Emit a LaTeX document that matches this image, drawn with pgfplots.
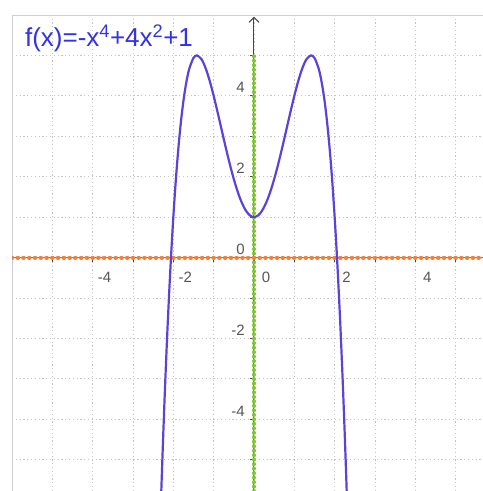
\documentclass[border=0pt]{standalone}
\usepackage{pgfplots}
\pgfplotsset{compat=1.18}
\usepackage{fontspec}
\setmainfont{Liberation Sans}
\usetikzlibrary{arrows.meta}

\definecolor{fnblue}{RGB}{50,50,230}
\definecolor{curveblue}{RGB}{88,68,218}
\definecolor{traceorange}{RGB}{240,128,58}
\definecolor{tracegreen}{RGB}{128,200,50}
\definecolor{axisgray}{RGB}{70,70,70}
\definecolor{labelgray}{RGB}{85,85,85}
\definecolor{gridgray}{RGB}{195,195,195}

\begin{document}
\begin{tikzpicture}
\useasboundingbox (0,0) rectangle (483bp,491bp);
\begin{axis}[
  at={(12bp,0)}, anchor=south west,
  scale only axis, width=471bp, height=476bp,
  xmin=-6, xmax=5.678, ymin=-5.777, ymax=6.0,
  axis lines=middle,
  axis line style={draw=none},
  hide obscured x ticks=false, hide obscured y ticks=false,
  xtick={-4,-2,0,2,4}, ytick={-4,-2,0,2,4},
  minor xtick={-6,-5,...,5}, minor ytick={-5,-4,...,6},
  grid=both,
  major grid style={gridgray, line width=0.8bp, dash pattern=on 1.2bp off 2.6bp},
  minor grid style={gridgray, line width=0.8bp, dash pattern=on 1.2bp off 2.6bp},
  tick align=outside,
  major tick length=4bp, minor tick length=4bp,
  tick style={axisgray, line width=0.8bp},
  /pgf/number format/assume math mode=true,
  ticklabel style={font=\fontsize{15bp}{18bp}\selectfont, text=labelgray, inner sep=0pt},
  xticklabel style={anchor=north, xshift=12bp, yshift=-10bp},
  yticklabel style={anchor=east, xshift=-5bp, yshift=8bp},
  xticklabel={\pgfmathprintnumber[assume math mode=true]{\tick}},
  yticklabel={\pgfmathprintnumber[assume math mode=true]{\tick}},
]
% light frame along the top and left edges of the drawing pane
\draw[gridgray!80, line width=0.8bp] (rel axis cs:0,0) -- (rel axis cs:0,1) -- (rel axis cs:1,1);

% y-axis with arrow, and its dotted green trace
\addplot[axisgray, line width=1bp, -{Straight Barb[length=5bp,width=10bp]}] coordinates {(0,-5.777) (0,5.96)};
\addplot[tracegreen, line width=3.5bp, line cap=round, dash pattern=on 0.6bp off 3.8815bp, dash phase=0.3bp] coordinates {(0,-6) (0,5)};

% x-axis and its dotted orange trace
\addplot[axisgray, line width=1bp] coordinates {(-6,0) (5.678,0)};
\addplot[traceorange, line width=1.2bp, opacity=0.6] coordinates {(-6,0) (5.678,0)};
\addplot[traceorange, line width=4bp, line cap=round, dash pattern=on 0.6bp off 5.161bp, dash phase=0.3bp] coordinates {(-6,0) (5.678,0)};

% f(x) = -x^4 + 4x^2 + 1
\addplot[curveblue, line width=2.2bp, smooth] coordinates {
  (-2.4,-9.1376) (-2.35,-7.408) (-2.3,-5.8241) (-2.25,-4.3789) (-2.2,-3.0656)
  (-2.15,-1.8775) (-2.1,-0.8081) (-2.05,0.149) (-2.0,1) (-1.95,1.751)
  (-1.9,2.4079) (-1.85,2.9765) (-1.8,3.4624) (-1.75,3.8711) (-1.7,4.2079)
  (-1.65,4.478) (-1.6,4.6864) (-1.5,4.9375) (-1.4142,5) (-1.3,4.9039)
  (-1.2,4.6864) (-1.1,4.3759) (-1.0,4) (-0.9,3.5839) (-0.8,3.1504)
  (-0.7,2.7199) (-0.6,2.3104) (-0.5,1.9375) (-0.4,1.6144) (-0.3,1.3519)
  (-0.2,1.1584) (-0.1,1.0399) (0,1)
  (0.1,1.0399) (0.2,1.1584) (0.3,1.3519) (0.4,1.6144) (0.5,1.9375)
  (0.6,2.3104) (0.7,2.7199) (0.8,3.1504) (0.9,3.5839) (1.0,4)
  (1.1,4.3759) (1.2,4.6864) (1.3,4.9039) (1.4142,5) (1.5,4.9375)
  (1.6,4.6864) (1.65,4.478) (1.7,4.2079) (1.75,3.8711) (1.8,3.4624)
  (1.85,2.9765) (1.9,2.4079) (1.95,1.751) (2.0,1) (2.05,0.149)
  (2.1,-0.8081) (2.15,-1.8775) (2.2,-3.0656) (2.25,-4.3789) (2.3,-5.8241)
  (2.35,-7.408) (2.4,-9.1376)
};

\node[anchor=base west, inner sep=0pt, text=fnblue, font=\fontsize{26bp}{30bp}\selectfont]
  at (axis cs:-5.682,5.23) {f(x)=-x\textsuperscript{4}+4x\textsuperscript{2}+1};
\end{axis}
\end{tikzpicture}
\end{document}
